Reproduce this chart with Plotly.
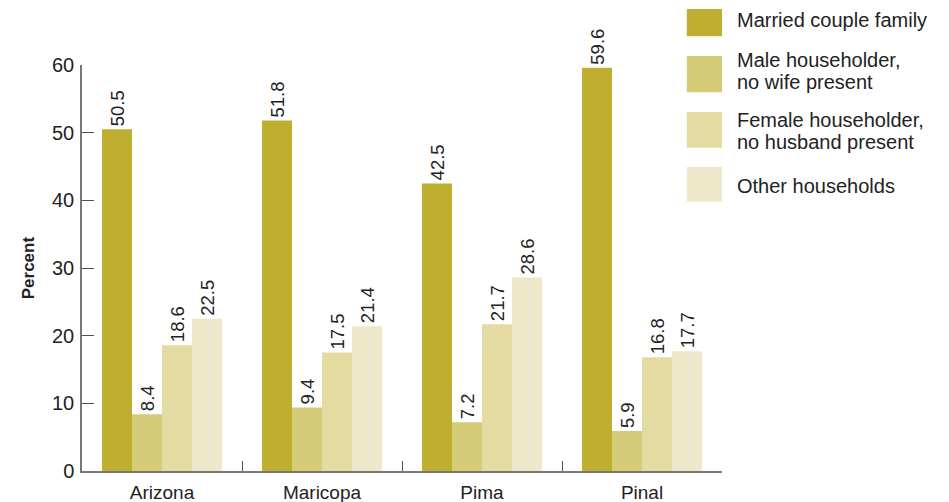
import plotly.graph_objects as go

categories = ["Arizona", "Maricopa", "Pima", "Pinal"]
series_names = ["Married couple family", "Male householder,\nno wife present",
                "Female householder,\nno husband present", "Other households"]
married = [50.5, 51.8, 42.5, 59.6]
male = [8.4, 9.4, 7.2, 5.9]
female = [18.6, 17.5, 21.7, 16.8]
other = [22.5, 21.4, 28.6, 17.7]
colors = ["#C0AE30", "#D6CC78", "#E3DBA2", "#EEE8CA"]
y_ticks = [0, 10, 20, 30, 40, 50, 60]

font_family = "Liberation Sans, Arial, sans-serif"
fig = go.Figure()
for name, vals, col in zip(series_names, [married, male, female, other], colors):
    fig.add_trace(go.Bar(
        x=categories, y=vals, name=name.replace("\n", " "),
        marker=dict(color=col, line=dict(width=0)),
        text=[f"{v:.1f}" for v in vals], textposition="outside", textangle=-90,
        textfont=dict(size=18.5, color="#222", family=font_family),
        constraintext="none", cliponaxis=False, showlegend=False,
    ))

# Custom legend with large swatches (paper coordinates)
swatch_y = [(1.071, 1.138), (0.933, 1.022), (0.796, 0.884), (0.663, 0.749)]
line_y = [[1.111], [1.012, 0.958], [0.865, 0.810], [0.702]]
for name, col, (y0, y1), ys in zip(series_names, colors, swatch_y, line_y):
    fig.add_shape(type="rect", xref="paper", yref="paper",
                  x0=0.945, x1=1.0, y0=y0, y1=y1,
                  fillcolor=col, line=dict(width=0))
    for line, yc in zip(name.split("\n"), ys):
        fig.add_annotation(xref="paper", yref="paper", x=1.021, y=yc,
                           text=line, showarrow=False, xanchor="left", yanchor="middle",
                           align="left", font=dict(size=20, color="#222", family=font_family))

fig.add_annotation(xref="paper", yref="paper", x=-0.084, y=0.5, text="<b>Percent</b>",
                   textangle=-90, showarrow=False, xanchor="center", yanchor="middle",
                   font=dict(size=17, color="#222", family=font_family))

fig.update_layout(
    width=941, height=494,
    margin=dict(l=74, r=227, t=57, b=31, autoexpand=False),
    paper_bgcolor="white", plot_bgcolor="white",
    barmode="group", bargap=0.25, bargroupgap=0,
    font=dict(family=font_family, color="#222"),
    xaxis=dict(showline=True, linecolor="#777", linewidth=2, ticks="inside",
               tickson="boundaries", ticklen=10, tickcolor="#555", automargin=False,
               ticklabelstandoff=3,
               tickfont=dict(size=19, color="#222"), showgrid=False),
    yaxis=dict(range=[0, 60], tickvals=y_ticks, showline=True, linecolor="#777",
               linewidth=1.5, ticks="inside", ticklen=12, tickcolor="#555", automargin=False,
               ticklabelstandoff=2,
               tickfont=dict(size=20, color="#222"), showgrid=False, zeroline=False),
)
fig.write_html("out.html")
